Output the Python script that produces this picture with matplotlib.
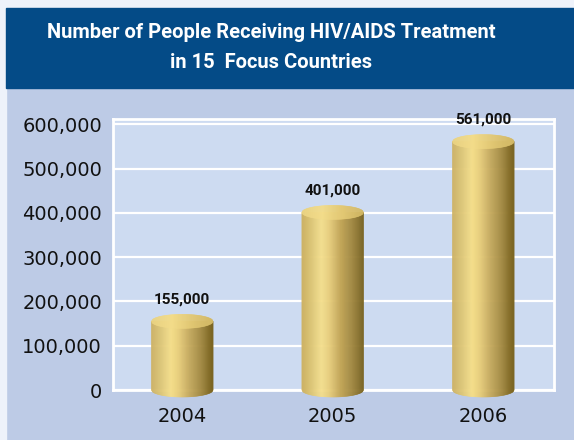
import numpy as np
import matplotlib
matplotlib.use("Agg")
import matplotlib.pyplot as plt
from matplotlib.colors import LinearSegmentedColormap
from matplotlib.patches import Rectangle
from matplotlib.collections import PolyCollection

# Data
years = ["2004", "2005", "2006"]
people = [155000, 401000, 561000]
value_labels = ["155,000", "401,000", "561,000"]
yticks = [0, 100000, 200000, 300000, 400000, 500000, 600000]

W, H = 574, 440
fig = plt.figure(figsize=(W / 100, H / 100), dpi=100)
fig.patch.set_facecolor("#bdcbe6")

# light outer border and title banner
fig.patches.append(Rectangle((0, 0), 6 / W, 1, transform=fig.transFigure, color="#eef2fa", zorder=0))
fig.patches.append(Rectangle((0, 1 - 8 / H), 1, 8 / H, transform=fig.transFigure, color="#eef2fa", zorder=0))
fig.patches.append(Rectangle((6 / W, 1 - 88 / H), 1, 80 / H, transform=fig.transFigure, color="#044b87", zorder=1))

title_font = ["Roboto", "DejaVu Sans"]
fig.text(271 / W, 1 - 33 / H, "Number of People Receiving HIV/AIDS Treatment", ha="center", va="center",
         color="white", fontsize=14.5, fontweight="bold", family=title_font)
fig.text(271 / W, 1 - 62 / H, "in 15  Focus Countries", ha="center", va="center",
         color="white", fontsize=14.5, fontweight="bold", family=title_font)

ax = fig.add_axes([113 / W, 50 / H, 441 / W, 271 / H])
ax.set_facecolor("#cddbf1")
ymax = 612000
ax.set_ylim(0, ymax)
ax.set_xlim(-0.46, 2.47)
for s in ax.spines.values():
    s.set_color("white")
    s.set_linewidth(2)
ax.set_yticks(yticks)
ax.set_yticklabels(["{:,}".format(v) for v in yticks])
ax.yaxis.grid(True, color="white", linewidth=1.6)
ax.set_axisbelow(True)
ax.set_xticks(range(len(years)))
ax.set_xticklabels(years)
ax.tick_params(axis="y", length=0, pad=8, labelsize=14, labelcolor="#111111")
ax.tick_params(axis="x", length=0, pad=12, labelsize=14, labelcolor="#111111")

# cylinders
body_cmap = LinearSegmentedColormap.from_list("gold", [
    (0.0, "#cdb163"), (0.15, "#dcc575"), (0.32, "#f5df8c"), (0.45, "#e8ce7b"),
    (0.6, "#c9ad5f"), (0.8, "#a58b42"), (1.0, "#78621f")])
top_cmap = LinearSegmentedColormap.from_list("goldtop", ["#e9d282", "#f3dc8a", "#e2c873", "#d2b865"])

bar_w = 0.41
eh = 7 * ymax / 271  # ellipse half height in data units
n = 60
for i, v in enumerate(people):
    x0 = i - bar_w / 2
    edges = np.linspace(0, 1, n + 1)
    polys, cols, tpolys, tcols = [], [], [], []
    for a, b in zip(edges[:-1], edges[1:]):
        ta, tb = 2 * a - 1, 2 * b - 1
        xa, xb = x0 + a * bar_w, x0 + b * bar_w
        da, db = eh * np.sqrt(max(0, 1 - ta ** 2)), eh * np.sqrt(max(0, 1 - tb ** 2))
        polys.append([(xa, -da), (xb, -db), (xb, v), (xa, v)])
        cols.append(body_cmap((a + b) / 2))
        tpolys.append([(xa, v - da), (xb, v - db), (xb, v + db), (xa, v + da)])
        tcols.append(top_cmap((a + b) / 2))
    pc = PolyCollection(polys, facecolors=cols, edgecolors=cols, linewidths=0.4, zorder=3, clip_on=False)
    ax.add_collection(pc)
    tc = PolyCollection(tpolys, facecolors=tcols, edgecolors=tcols, linewidths=0.4, zorder=4, clip_on=False)
    ax.add_collection(tc)
    ax.annotate(value_labels[i], (i, v), xytext=(0, 16), textcoords="offset points",
                ha="center", va="center", fontsize=11, fontweight="bold", color="#111111",
                family=title_font, annotation_clip=False, zorder=5)

fig.savefig("out.png", dpi=100, facecolor=fig.get_facecolor())
